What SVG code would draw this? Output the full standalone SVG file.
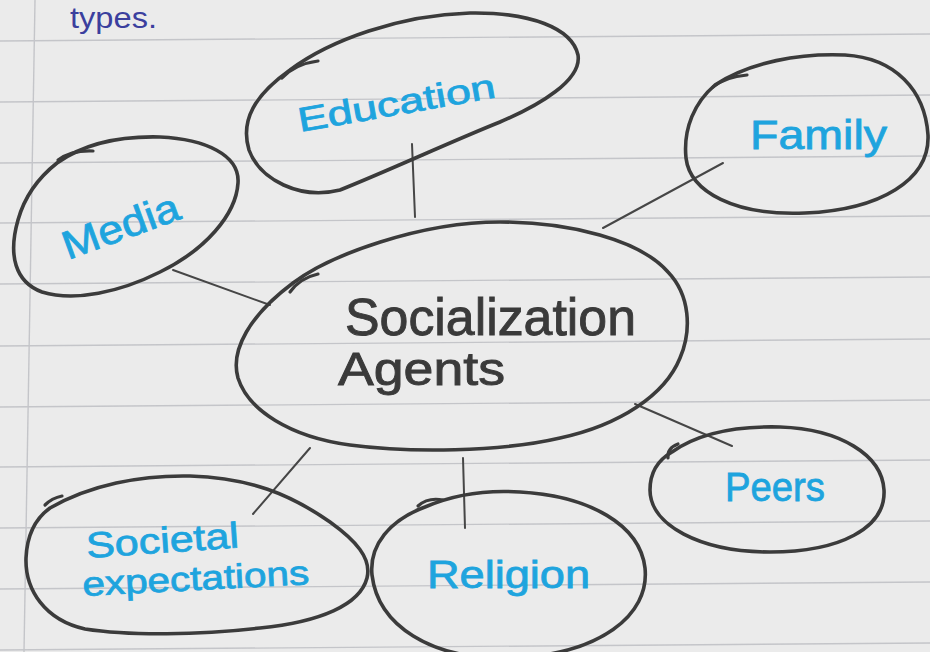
<svg xmlns="http://www.w3.org/2000/svg" width="930" height="652" viewBox="0 0 930 652">
  <style>
    .paper { fill: #ebebeb; }
    .rule { stroke: #c4c5c9; stroke-width: 1.4; fill: none; }
    .bubble { fill: none; stroke: #3b3b3b; stroke-width: 3.6; stroke-linecap: round; stroke-linejoin: round; }
    .tick { fill: none; stroke: #3b3b3b; stroke-width: 3.2; stroke-linecap: round; }
    .link { stroke: #464646; stroke-width: 2; stroke-linecap: round; fill: none; }
    .label { font-family: "Liberation Sans", "DejaVu Sans", sans-serif; fill: #1ea4de; stroke: #1ea4de; stroke-width: 0.8; }
    .hub { font-family: "Liberation Sans", "DejaVu Sans", sans-serif; fill: #3a3a3a; stroke: #3a3a3a; stroke-width: 0.9; }
    .note { font-family: "Liberation Sans", "DejaVu Sans", sans-serif; fill: #3b3f9e; }
  </style>

  <!-- ruled notebook page -->
  <rect class="paper" x="0" y="0" width="930" height="652"/>
  <g id="ruling">
    <line class="rule" x1="0" y1="41" x2="930" y2="34"/>
    <line class="rule" x1="0" y1="102" x2="930" y2="95"/>
    <line class="rule" x1="0" y1="163" x2="930" y2="156"/>
    <line class="rule" x1="0" y1="223" x2="930" y2="216"/>
    <line class="rule" x1="0" y1="284" x2="930" y2="277"/>
    <line class="rule" x1="0" y1="346" x2="930" y2="339"/>
    <line class="rule" x1="0" y1="407" x2="930" y2="400"/>
    <line class="rule" x1="0" y1="467" x2="930" y2="460"/>
    <line class="rule" x1="0" y1="528" x2="930" y2="521"/>
    <line class="rule" x1="0" y1="589" x2="930" y2="582"/>
    <line class="rule" x1="0" y1="650" x2="930" y2="643"/>
    <line class="rule" x1="35" y1="0" x2="24" y2="652"/>
  </g>

  <text class="note" x="70" y="28" font-size="30" textLength="87" lengthAdjust="spacingAndGlyphs">types.</text>

  <!-- connectors -->
  <g id="connectors">
    <path class="link" d="M 412,144 L 415,217"/>
    <path class="link" d="M 173,270 L 270,305"/>
    <path class="link" d="M 723,163 L 603,228"/>
    <path class="link" d="M 635,404 L 732,446"/>
    <path class="link" d="M 463,458 L 465,528"/>
    <path class="link" d="M 310,448 L 253,514"/>
  </g>

  <g id="socialization-agents">
    <path class="bubble" d="M 293,283 C 330,255 420,222 500,222 C 570,222 640,240 668,272 C 690,295 692,330 680,358 C 665,395 620,425 560,438 C 500,452 410,453 350,445 C 290,437 248,410 238,378 C 230,350 250,315 293,283 Z"/>
    <path class="tick" d="M 290,292 Q 300,278 318,274"/>
    <text class="hub" x="345" y="335" font-size="52" textLength="291" lengthAdjust="spacingAndGlyphs">Socialization</text>
    <text class="hub" x="338" y="385" font-size="46" textLength="167" lengthAdjust="spacingAndGlyphs">Agents</text>
  </g>

  <g id="education">
    <path class="bubble" d="M 290,70 C 330,40 400,15 470,13 C 530,12 572,28 578,55 C 582,80 540,105 500,122 C 450,142 390,170 340,190 C 300,200 260,180 249,150 C 240,120 255,95 290,70 Z"/>
    <path class="tick" d="M 282,78 Q 295,64 318,61"/>
    <text class="label" transform="translate(300,132) rotate(-10)" font-size="34" textLength="200" lengthAdjust="spacingAndGlyphs">Education</text>
  </g>

  <g id="media">
    <path class="bubble" d="M 57,163 C 85,143 120,136 160,137 C 205,139 240,155 238,183 C 236,215 205,250 160,272 C 120,292 75,302 42,292 C 15,282 8,255 18,220 C 25,195 38,178 57,163 Z"/>
    <path class="tick" d="M 58,160 Q 72,150 93,151"/>
    <text class="label" transform="translate(68,260) rotate(-20)" font-size="40" textLength="122" lengthAdjust="spacingAndGlyphs">Media</text>
  </g>

  <g id="family">
    <path class="bubble" d="M 715,85 C 750,62 800,53 845,55 C 895,58 925,90 928,135 C 930,180 880,210 805,213 C 735,216 690,192 686,158 C 683,128 695,102 715,85 Z"/>
    <path class="tick" d="M 713,87 Q 725,77 747,75"/>
    <text class="label" x="750" y="149" font-size="40" textLength="137" lengthAdjust="spacingAndGlyphs">Family</text>
  </g>

  <g id="peers">
    <path class="bubble" d="M 672,452 C 700,432 740,426 780,427 C 840,429 882,455 884,490 C 886,528 840,552 770,552 C 700,552 650,525 650,490 C 650,472 658,460 672,452 Z"/>
    <path class="tick" d="M 668,458 Q 667,448 678,444"/>
    <text class="label" x="725" y="501" font-size="40" textLength="100" lengthAdjust="spacingAndGlyphs">Peers</text>
  </g>

  <g id="religion">
    <path class="bubble" d="M 425,507 C 455,494 490,490 520,492 C 590,496 640,525 645,568 C 650,615 600,655 510,658 C 430,660 378,625 372,575 C 369,545 390,520 425,507 Z"/>
    <path class="tick" d="M 418,506 Q 428,497 443,500"/>
    <text class="label" x="427" y="588" font-size="38" textLength="163" lengthAdjust="spacingAndGlyphs">Religion</text>
  </g>

  <g id="societal-expectations">
    <path class="bubble" d="M 50,508 C 90,485 140,475 190,476 C 250,478 290,494 330,522 C 355,540 372,558 367,578 C 360,605 320,622 260,628 C 200,635 130,636 85,629 C 45,620 25,590 26,558 C 27,535 36,518 50,508 Z"/>
    <path class="tick" d="M 45,505 Q 52,498 62,496"/>
    <text class="label" transform="translate(87,558) rotate(-4)" font-size="36" textLength="153" lengthAdjust="spacingAndGlyphs">Societal</text>
    <text class="label" transform="translate(83,596) rotate(-3)" font-size="34" textLength="227" lengthAdjust="spacingAndGlyphs">expectations</text>
  </g>
</svg>
